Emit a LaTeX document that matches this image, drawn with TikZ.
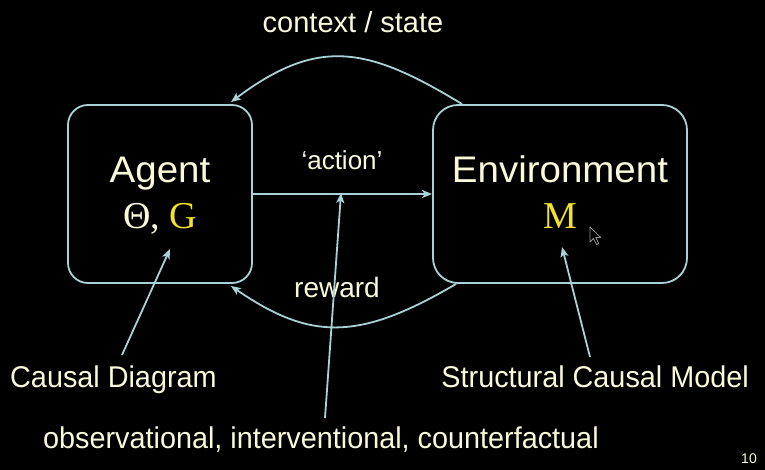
\documentclass[tikz,border=0pt]{standalone}
\usepackage{fontspec}
\setmainfont{Liberation Sans}
\newfontfamily\tmsf{Liberation Serif}
\newfontfamily\lowf{Liberation Sans}[FakeStretch=0.96]
\newfontfamily\bigf{Liberation Sans}[FakeStretch=1.04]
\usetikzlibrary{arrows.meta,calc}
\definecolor{ln}{RGB}{168,210,214}
\definecolor{txt}{RGB}{250,250,218}
\definecolor{yl}{RGB}{242,226,44}
\definecolor{cur}{RGB}{150,150,150}
\tikzset{
  box/.style={draw=ln, line width=1.8pt, inner sep=0pt, minimum height=178pt},
  conn/.style={draw=ln, line width=1.8pt, -{Stealth[length=10pt,width=8pt,inset=2.5pt]}},
  lbl/.style={text=txt, inner sep=0pt, anchor=base},
  bigtxt/.style={font=\bigf\fontsize{37}{40}\selectfont},
  sertxt/.style={font=\tmsf\fontsize{38}{40}\selectfont},
  lowtxt/.style={font=\lowf\fontsize{30}{32}\selectfont},
}
\begin{document}
\begin{tikzpicture}[x=1pt,y=-1pt]
\fill[black] (0,0) rectangle (765,470);
\useasboundingbox (0,0) rectangle (765,470);

% boxes
\node[box, rounded corners=20pt, minimum width=184pt] (agent) at (160,194) {};
\node[box, rounded corners=25pt, minimum width=254pt] (env) at (560,194) {};

% box texts
\node[lbl, bigtxt] (agenttxt) at (160,183) {Agent};
\node[lbl, sertxt] (thetag) at (160,229) {Θ, \textcolor{yl}{G}};
\node[lbl, bigtxt] (envtxt) at (560,183) {Environment};
\node[lbl, sertxt, text=yl] (mtxt) at (560,229) {M};

% edge labels
\node[lbl, font=\fontsize{26}{30}\selectfont] (actiontxt) at (342,170) {‘action’};
\node[lbl, font=\fontsize{28}{30}\selectfont] (rewardtxt) at (337,297) {reward};
\node[lbl, font=\fontsize{29}{30}\selectfont] (ctxtxt) at (353,33) {context / state};

% bottom labels
\node[lbl, lowtxt, anchor=base west] (causal) at (10,387) {Causal Diagram};
\node[lbl, lowtxt, anchor=base east] (scm) at (749,387) {Structural Causal Model};
\node[lbl, lowtxt, anchor=base west] (obs) at (43,448) {observational, interventional, counterfactual};
\node[lbl, font=\fontsize{14}{16}\selectfont] (pagenum) at (749,463) {10};

% coordinates for connector ends
\coordinate (ctxstart) at ($(env.north west)+(30,0)$);
\coordinate (ctxend) at ($(agent.north east)+(-22,-2)$);
\coordinate (rwstart) at ($(env.south west)+(24,0)$);
\coordinate (rwend) at ($(agent.south east)+(-22,2)$);
\coordinate (cdtail) at (122,355);
\coordinate (cdtip) at (170,249);
\coordinate (obstail) at (325,418);
\coordinate (obstip) at (341,193);
\coordinate (scmtail) at (590,357);
\coordinate (scmtip) at (562,247);

% connectors
\draw[conn] (agent.east) -- (env.west);
\draw[conn] (ctxstart) .. controls +(-94,-57) and +(88,-66) .. (ctxend);
\draw[conn] (rwstart) .. controls +(-97,57) and +(80,55) .. (rwend);
\draw[conn] (cdtail) -- (cdtip);
\draw[conn] (obstail) -- (obstip);
\draw[conn] (scmtail) -- (scmtip);

% mouse pointer
\draw[cur, line width=0.8pt, fill=black, line join=round]
  (590,227) -- ++(0,15) -- ++(3.5,-3.5) -- ++(3,6) -- ++(2.2,-1) -- ++(-3,-6) -- ++(5,0) -- cycle;
\end{tikzpicture}
\end{document}
